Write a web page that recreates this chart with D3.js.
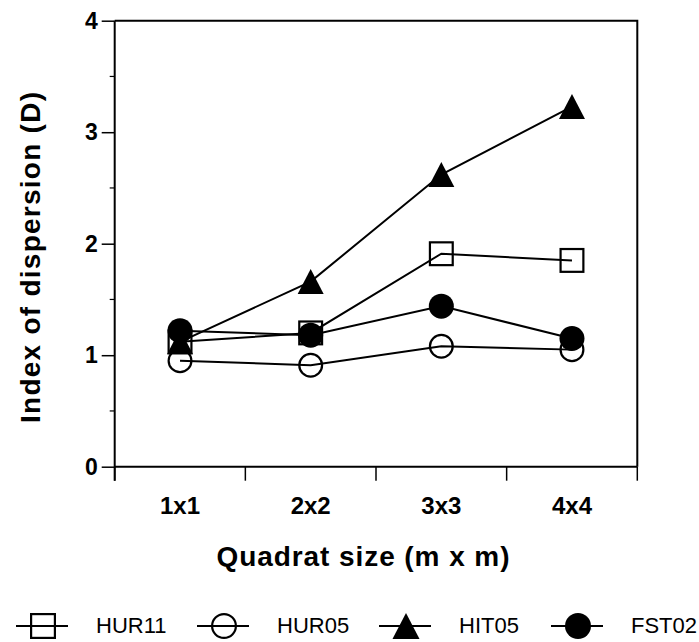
<!DOCTYPE html>
<html>
<head>
<meta charset="utf-8">
<script src="https://cdn.jsdelivr.net/npm/d3@7"></script>
<style>
  html, body { margin: 0; padding: 0; background: #fff; }
  svg { display: block; }
  text { font-family: "Liberation Sans", Arial, Helvetica, sans-serif; fill: #000; }
</style>
</head>
<body>
<svg id="chart" width="699" height="642"></svg>
<script>
// ---- data ----
const categories = ["1x1", "2x2", "3x3", "4x4"];
const seriesNames = ["HUR11", "HUR05", "HIT05", "FST02"];
const seriesSymbols = ["square", "circle", "triangle", "circle"];
const seriesFilled = [false, false, true, true];
const hur11 = [1.12, 1.20, 1.91, 1.85];
const hur05 = [0.95, 0.91, 1.08, 1.05];
const hit05 = [1.12, 1.66, 2.62, 3.23];
const fst02 = [1.22, 1.18, 1.44, 1.15];
const seriesValues = [hur11, hur05, hit05, fst02];
const yTicks = [0, 1, 2, 3, 4];
const yMinorTicks = [0.5, 1.5, 2.5, 3.5];
const xTitle = "Quadrat size (m x m)";
const yTitle = "Index of dispersion (D)";

// ---- layout ----
const pLeft = 114.7, pTop = 20.7, pRight = 637.3, pBottom = 466.7;
const legendStarts = [16, 197, 379, 551];
const svg = d3.select("#chart");

const x = d3.scaleBand().domain(categories).range([pLeft, pRight]).padding(0);
const y = d3.scaleLinear().domain([0, 4]).range([pBottom, pTop]);

// frame (top and right)
svg.append("path")
  .attr("d", `M${pLeft},${pTop}H${pRight}V${pBottom}`)
  .attr("fill", "none").attr("stroke", "#000").attr("stroke-width", 2);

// y axis
const yAxis = svg.append("g").attr("transform", `translate(${pLeft},0)`)
  .call(d3.axisLeft(y).tickValues(yTicks).tickFormat(d3.format("d")).tickSize(13).tickPadding(4).tickSizeOuter(0));
yAxis.select(".domain").remove();
yAxis.selectAll(".tick line").attr("stroke", "#000").attr("stroke-width", 1.5);
yAxis.selectAll(".tick text")
  .style("font-family", "'Liberation Sans', Arial, sans-serif")
  .style("font-size", "23px").style("font-weight", "bold").attr("fill", "#000");
// minor ticks
svg.append("g").selectAll("line").data(yMinorTicks).join("line")
  .attr("x1", pLeft - 5).attr("x2", pLeft)
  .attr("y1", d => y(d)).attr("y2", d => y(d))
  .attr("stroke", "#000").attr("stroke-width", 1.2);
// y axis line, extending slightly below zero
svg.append("line").attr("x1", pLeft).attr("x2", pLeft).attr("y1", pTop).attr("y2", pBottom + 14)
  .attr("stroke", "#000").attr("stroke-width", 2);

// x axis
svg.append("line").attr("x1", pLeft).attr("x2", pRight).attr("y1", pBottom).attr("y2", pBottom)
  .attr("stroke", "#000").attr("stroke-width", 2);
const boundaries = categories.map(c => x(c)).concat([x(categories[categories.length - 1]) + x.bandwidth()]);
svg.append("g").selectAll("line").data(boundaries).join("line")
  .attr("x1", d => d).attr("x2", d => d)
  .attr("y1", pBottom).attr("y2", pBottom + 14)
  .attr("stroke", "#000").attr("stroke-width", 1.5);
const xAxis = svg.append("g").attr("transform", `translate(0,${pBottom})`)
  .call(d3.axisBottom(x).tickSize(0).tickPadding(30));
xAxis.select(".domain").remove();
xAxis.selectAll(".tick text")
  .style("font-family", "'Liberation Sans', Arial, sans-serif")
  .style("font-size", "24px").style("font-weight", "bold").attr("fill", "#000");

// axis titles
svg.append("text")
  .attr("x", 363).attr("y", 565.5)
  .attr("text-anchor", "middle")
  .style("font-size", "28px").style("font-weight", "bold")
  .attr("textLength", 293).attr("lengthAdjust", "spacing")
  .text(xTitle);
svg.append("text")
  .attr("transform", "translate(40,257.5) rotate(-90)")
  .attr("text-anchor", "middle")
  .style("font-size", "28px").style("font-weight", "bold")
  .attr("textLength", 331).attr("lengthAdjust", "spacing")
  .text(yTitle);

// symbols
function drawMarker(g, sym, filled, cx, cy, size) {
  const sw = 2.2;
  if (sym === "square") {
    const s = size - sw;
    g.append("rect").attr("x", cx - s / 2).attr("y", cy - s / 2).attr("width", s).attr("height", s)
      .attr("fill", filled ? "#000" : "none").attr("stroke", "#000").attr("stroke-width", sw);
  } else if (sym === "circle") {
    const r = filled ? size / 2 : (size - sw) / 2;
    g.append("circle").attr("cx", cx).attr("cy", cy).attr("r", r)
      .attr("fill", filled ? "#000" : "none").attr("stroke", filled ? "none" : "#000").attr("stroke-width", sw);
  } else if (sym === "triangle") {
    const h = size, w = size * 1.04;
    g.append("path")
      .attr("d", `M${cx},${cy - h / 2}L${cx + w / 2},${cy + h / 2}L${cx - w / 2},${cy + h / 2}Z`)
      .attr("fill", "#000");
  }
}

const cx = c => x(c) + x.bandwidth() / 2;
const line = d3.line().x((d, i) => cx(categories[i])).y(d => y(d));

const linesG = svg.append("g");
seriesValues.forEach(vals => {
  linesG.append("path").attr("d", line(vals))
    .attr("fill", "none").attr("stroke", "#000").attr("stroke-width", 2);
});
const marksG = svg.append("g");
seriesValues.forEach((vals, s) => {
  vals.forEach((v, i) => {
    drawMarker(marksG, seriesSymbols[s], seriesFilled[s], cx(categories[i]), y(v), 25);
  });
});

// legend
const legendY = 626;
const legendG = svg.append("g");
seriesNames.forEach((name, s) => {
  const lx = legendStarts[s];
  const item = legendG.append("g");
  item.append("line").attr("x1", lx).attr("x2", lx + 52).attr("y1", legendY).attr("y2", legendY)
    .attr("stroke", "#000").attr("stroke-width", 2);
  drawMarker(item, seriesSymbols[s], seriesFilled[s], lx + 27, legendY, 26);
  item.append("text").attr("x", lx + 80).attr("y", legendY + 7)
    .style("font-size", "22px").text(name);
});
</script>
</body>
</html>
